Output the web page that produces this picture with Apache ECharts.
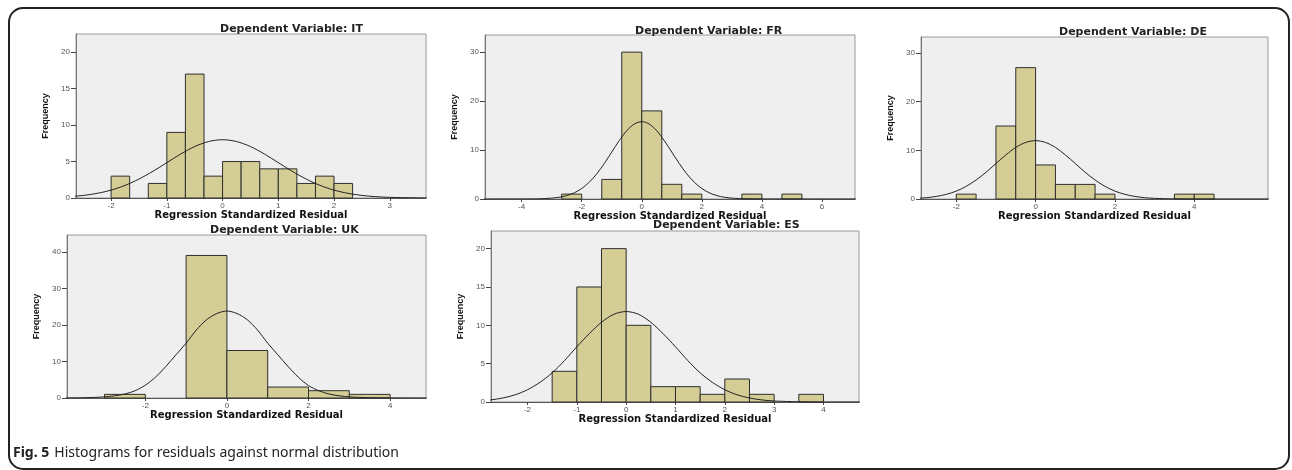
<!DOCTYPE html>
<html>
<head>
<meta charset="utf-8">
<title>Histograms for residuals against normal distribution</title>
<script src="https://cdn.jsdelivr.net/npm/echarts@6/dist/echarts.min.js"></script>
<style>
  html, body { margin: 0; padding: 0; background: #fff; }
  #chart { width: 1292px; height: 470px; }
</style>
</head>
<body>
<div id="chart"></div>
<script>
// bin edges (n+1) and frequencies (n)
const itEdges = [-2, -1.667, -1.333, -1, -0.667, -0.333, 0, 0.333, 0.667, 1, 1.333, 1.667, 2, 2.333]
const itCounts = [3, 0, 2, 9, 17, 3, 5, 5, 4, 4, 2, 3, 2]
const frEdges = [-2.667, -2, -1.333, -0.667, 0, 0.667, 1.333, 2, 2.667, 3.333, 4, 4.667, 5.333]
const frCounts = [1, 0, 4, 30, 18, 3, 1, 0, 0, 1, 0, 1]
const deEdges = [-2, -1.5, -1, -0.5, 0, 0.5, 1, 1.5, 2, 2.5, 3, 3.5, 4, 4.5]
const deCounts = [1, 0, 15, 27, 7, 3, 3, 1, 0, 0, 0, 1, 1]
const ukEdges = [-3, -2, -1, 0, 1, 2, 3, 4]
const ukCounts = [1, 0, 39, 13, 3, 2, 1]
const esEdges = [-1.5, -1, -0.5, 0, 0.5, 1, 1.5, 2, 2.5, 3, 3.5, 4]
const esCounts = [4, 15, 20, 10, 2, 2, 1, 3, 1, 0, 1]

// normal curves, points (same x grid for all)
const curveX = [-5.5, -4, -3.5, -3, -2.75, -2.5, -2.25, -2, -1.75, -1.5, -1.25, -1, -0.75, -0.5, -0.25, 0,
  0.25, 0.5, 0.75, 1, 1.25, 1.5, 1.75, 2, 2.25, 2.5, 2.75, 3, 3.5, 4, 5.5, 7.5]
const itCurveY = [0, 0, 0.02, 0.09, 0.18, 0.35, 0.64, 1.08, 1.73, 2.6, 3.66, 4.85, 6.04, 7.06, 7.75, 8.0,
  7.75, 7.06, 6.04, 4.85, 3.66, 2.6, 1.73, 1.08, 0.64, 0.35, 0.18, 0.09, 0.02, 0, 0, 0]
const frCurveY = [0, 0.01, 0.03, 0.18, 0.36, 0.69, 1.26, 2.14, 3.42, 5.13, 7.23, 9.58, 11.93, 13.94, 15.31, 15.8,
  15.31, 13.94, 11.93, 9.58, 7.23, 5.13, 3.42, 2.14, 1.26, 0.69, 0.36, 0.18, 0.03, 0.01, 0, 0]
const deCurveY = [0, 0, 0.03, 0.13, 0.27, 0.53, 0.96, 1.62, 2.6, 3.9, 5.49, 7.3, 9.06, 10.6, 11.63, 12,
  11.63, 10.6, 9.06, 7.3, 5.49, 3.9, 2.6, 1.62, 0.96, 0.53, 0.27, 0.13, 0.03, 0, 0, 0]
const ukCurveY = [0, 0.02, 0.08, 0.3, 0.6, 1.1, 2.0, 3.5, 5.7, 8.6, 11.8, 15, 18.6, 21.4, 23.1, 23.8,
  23.1, 21.4, 18.6, 15, 11.8, 8.6, 5.7, 3.4, 2.0, 1.1, 0.6, 0.3, 0.08, 0.02, 0, 0]
const esCurveY = [0, 0, 0.03, 0.13, 0.27, 0.52, 0.94, 1.6, 2.55, 3.8, 5.4, 7.2, 8.9, 10.4, 11.44, 11.8,
  11.44, 10.4, 8.9, 7.2, 5.4, 3.8, 2.55, 1.6, 0.94, 0.52, 0.27, 0.13, 0.03, 0, 0, 0]

// tick labels
const itXTicks = [-2, -1, 0, 1, 2, 3]
const itYTicks = [0, 5, 10, 15, 20]
const frXTicks = [-4, -2, 0, 2, 4, 6]
const frYTicks = [0, 10, 20, 30]
const deXTicks = [-2, 0, 2, 4]
const deYTicks = [0, 10, 20, 30]
const ukXTicks = [-2, 0, 2, 4]
const ukYTicks = [0, 10, 20, 30, 40]
const esXTicks = [-2, -1, 0, 1, 2, 3, 4]
const esYTicks = [0, 5, 10, 15, 20]

const panels = [
  { name: 'IT', edges: itEdges, counts: itCounts, cy: itCurveY, xt: itXTicks, yt: itYTicks,
    box: [76, 34, 350, 164], xr: [-2.63, 3.65], ymax: 22.5, title: [220, 24] },
  { name: 'FR', edges: frEdges, counts: frCounts, cy: frCurveY, xt: frXTicks, yt: frYTicks,
    box: [485, 35, 370, 164], xr: [-5.22, 7.1], ymax: 33.5, title: [635, 26] },
  { name: 'DE', edges: deEdges, counts: deCounts, cy: deCurveY, xt: deXTicks, yt: deYTicks,
    box: [921, 37, 347, 162], xr: [-2.89, 5.86], ymax: 33.3, title: [1059, 27] },
  { name: 'UK', edges: ukEdges, counts: ukCounts, cy: ukCurveY, xt: ukXTicks, yt: ukYTicks,
    box: [67, 235, 359, 163], xr: [-3.92, 4.88], ymax: 44.6, title: [210, 225] },
  { name: 'ES', edges: esEdges, counts: esCounts, cy: esCurveY, xt: esXTicks, yt: esYTicks,
    box: [491, 231, 368, 171], xr: [-2.74, 4.72], ymax: 22.3, title: [653, 220] }
]

const sans = 'DejaVu Sans, Liberation Sans, Arial, sans-serif'

function renderBin(params, api) {
  if (!api.value(2)) return null
  const a = api.coord([api.value(0), api.value(2)])
  const b = api.coord([api.value(1), 0])
  return {
    type: 'rect',
    shape: { x: a[0], y: a[1], width: b[0] - a[0], height: b[1] - a[1] },
    style: { fill: '#d5cd96', stroke: '#2e2e2e', lineWidth: 1 }
  }
}

const option = {
  animation: false,
  backgroundColor: '#fff',
  textStyle: { fontFamily: 'Liberation Sans, Arial, sans-serif' },
  title: [],
  grid: [],
  xAxis: [],
  yAxis: [],
  series: [],
  graphic: [{
    type: 'rect',
    shape: { x: 9, y: 8, width: 1280, height: 461, r: 14 },
    style: { fill: 'none', stroke: '#222', lineWidth: 2 },
    silent: true
  }]
}

panels.forEach((p, i) => {
  option.title.push({
    text: 'Dependent Variable: ' + p.name,
    left: p.title[0],
    top: p.title[1],
    padding: 0,
    textStyle: { fontSize: 11, fontWeight: 'bold', color: '#222', fontFamily: sans }
  })
  option.grid.push({
    left: p.box[0], top: p.box[1], width: p.box[2], height: p.box[3],
    show: true, backgroundColor: '#efefef', borderColor: '#9a9a9a', borderWidth: 1
  })
  option.xAxis.push({
    type: 'value', gridIndex: i, min: p.xr[0], max: p.xr[1],
    name: 'Regression Standardized Residual',
    nameLocation: 'middle', nameGap: 11,
    nameTextStyle: { fontSize: 10, fontWeight: 'bold', color: '#111', fontFamily: sans },
    splitLine: { show: false },
    axisLine: { onZero: false, lineStyle: { color: '#555', width: 1 } },
    axisTick: { show: true, length: 3, customValues: p.xt, lineStyle: { color: '#444' } },
    axisLabel: { customValues: p.xt, fontSize: 8, color: '#555', margin: 4 }
  })
  option.yAxis.push({
    type: 'value', gridIndex: i, min: 0, max: p.ymax,
    name: 'Frequency',
    nameLocation: 'middle', nameGap: 26, nameRotate: 90,
    nameTextStyle: { fontSize: 9, fontWeight: 'bold', color: '#111', fontFamily: 'Liberation Sans Narrow, Arial Narrow, sans-serif' },
    splitLine: { show: false },
    axisLine: { show: true, onZero: false, lineStyle: { color: '#777', width: 1 } },
    axisTick: { show: true, length: 5, customValues: p.yt, lineStyle: { color: '#444' } },
    axisLabel: { customValues: p.yt, fontSize: 8, color: '#555', margin: 6 }
  })
  const bins = p.counts.map((c, k) => [p.edges[k], p.edges[k + 1], c])
  option.series.push({
    type: 'custom', xAxisIndex: i, yAxisIndex: i,
    renderItem: renderBin,
    encode: { x: [0, 1], y: 2 },
    data: bins,
    silent: true
  })
  option.series.push({
    type: 'line', xAxisIndex: i, yAxisIndex: i,
    data: curveX.map((x, k) => [x, p.cy[k]]),
    smooth: 0.3, showSymbol: false, silent: true,
    lineStyle: { color: '#222', width: 1 }
  })
})

option.title.push({
  text: '{b|Fig. 5} {r|Histograms for residuals against normal distribution}',
  left: 13, top: 444, padding: 0,
  textStyle: {
    rich: {
      b: { fontSize: 14, fontWeight: 'bold', color: '#222', fontFamily: 'Noto Sans, sans-serif' },
      r: { fontSize: 14, fontWeight: 'normal', color: '#222', fontFamily: 'Noto Sans, sans-serif' }
    }
  }
})

const myChart = echarts.init(document.getElementById('chart'))
myChart.setOption(option)
</script>
</body>
</html>
